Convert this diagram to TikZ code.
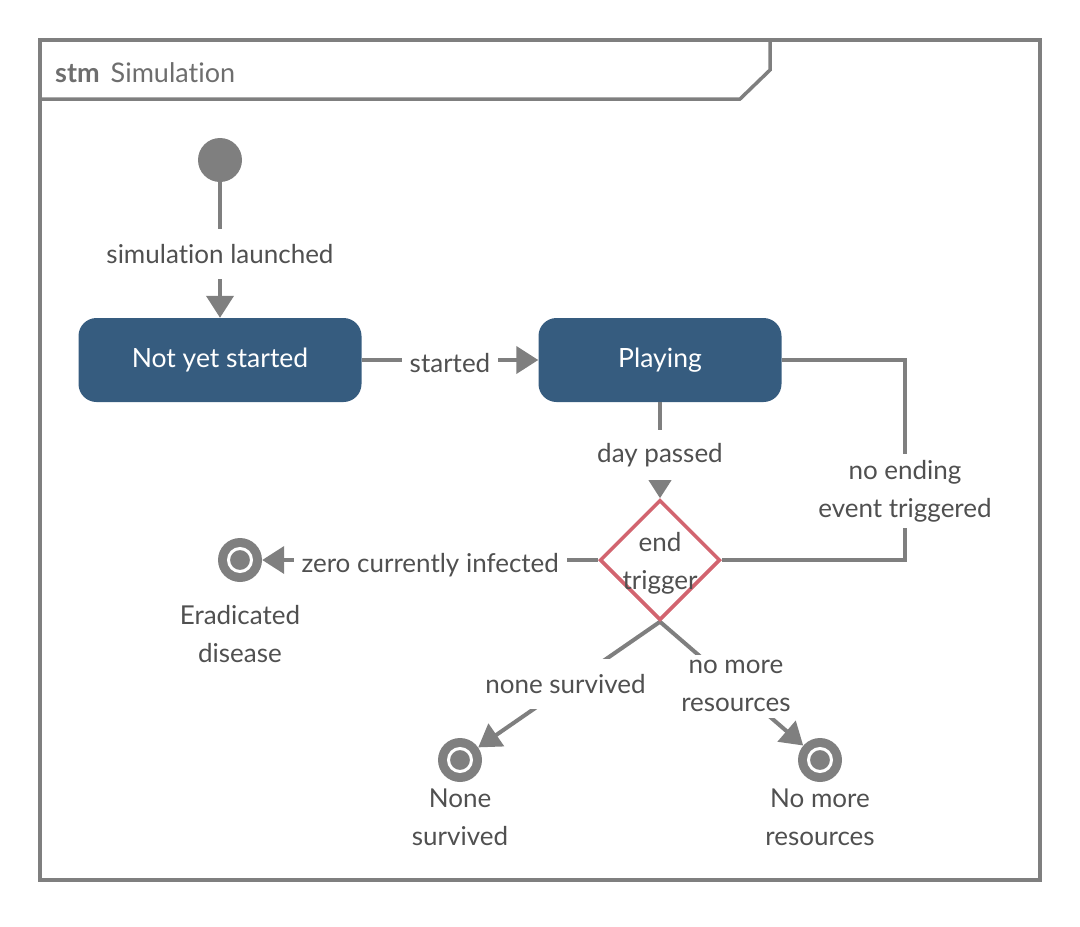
\documentclass[tikz,border=0pt]{standalone}
\usepackage{fontspec}
\setmainfont{Lato}[Ligatures=NoCommon]
\usetikzlibrary{arrows.meta,shapes.geometric}
\definecolor{gc}{HTML}{7F7F7F}
\definecolor{tc}{HTML}{505050}
\definecolor{hc}{HTML}{6E6E6E}
\definecolor{boxc}{HTML}{365C7F}
\definecolor{redc}{HTML}{D2646F}
\tikzset{
  txt/.style={font=\fontsize{26}{38}\selectfont, text=tc},
  statebox/.style={rectangle, rounded corners=18pt, fill=boxc, text=white, minimum height=84pt, font=\fontsize{26.5}{38}\selectfont},
  conn/.style={draw=gc, line width=4pt, -{Triangle[width=27pt,length=22pt]}},
  plain/.style={draw=gc, line width=4pt},
  lbl/.style={txt, fill=white, inner xsep=8pt, inner ysep=6pt, align=center, minimum height=50pt},
  finalst/.style={circle, fill=gc, minimum size=44pt, inner sep=0pt,
    path picture={\draw[white, line width=3pt, fill=gc] (path picture bounding box.center) circle (11.5pt);}},
  decision/.style={diamond, draw=redc, line width=3.5pt, fill=white, minimum width=120pt, minimum height=120pt, inner sep=0pt, aspect=1}
}
\begin{document}
\begin{tikzpicture}[x=1pt,y=-1pt]
\useasboundingbox (0,0) rectangle (1080,927);
% frame
\draw[gc, line width=3.5pt] (40,40) rectangle (1040,880);
\draw[gc, line width=3.5pt] (40,99) -- (740,99) -- (770,70) -- (770,40);
\node[anchor=west, font=\fontsize{27}{30}\selectfont, text=hc, inner sep=0pt] (hdr) at (55,73) {{\bfseries stm}\hspace{11pt}Simulation};
% states
\node[circle, fill=gc, minimum size=44pt, inner sep=0pt] (init) at (220,160) {};
\node[statebox, minimum width=283pt] (nys) at (220,360) {Not yet started};
\node[statebox, minimum width=243pt] (play) at (660,360) {Playing};
\node[decision] (dia) at (660,560) {};
\node[finalst] (erad) at (240,560) {};
\node[finalst] (nonesurv) at (460,760) {};
\node[finalst] (nomore) at (820,760) {};
\node[txt, align=center] (eradl) at (240,634) {Eradicated\\disease};
\node[txt, align=center] (nonesurvl) at (460,817) {None\\survived};
\node[txt, align=center] (nomorel) at (820,817) {No more\\resources};
% transitions
\draw[conn] (init) -- node[lbl, yshift=-4pt] {simulation launched} (nys);
\draw[conn] (nys.east) -- node[lbl, yshift=-3pt] {started} (play.west);
\draw[conn] (play.south) -- node[lbl, yshift=-5pt] {day passed} (dia.north);
\coordinate (c1) at (905,360);
\coordinate (c2) at (905,560);
\draw[plain] (play.east) -- (c1) -- node[lbl, pos=0.64, yshift=-3pt] {no ending\\event triggered} (c2) -- (dia.east);
\draw[conn] (dia.west) -- node[lbl, yshift=-5pt] {zero currently infected} (erad);
\draw[conn] (dia.south) -- node[lbl, pos=0.52, yshift=3pt] {none survived} (nonesurv);
\draw[conn] (dia.south) -- node[lbl, pos=0.53, yshift=1pt] {no more\\resources} (nomore);
% decision drawn on top of its connectors
\node[decision] (dia2) at (660,560) {};
\node[txt, align=center, inner sep=0pt] (dtext) at (660,563) {end\\trigger};
\end{tikzpicture}
\end{document}
